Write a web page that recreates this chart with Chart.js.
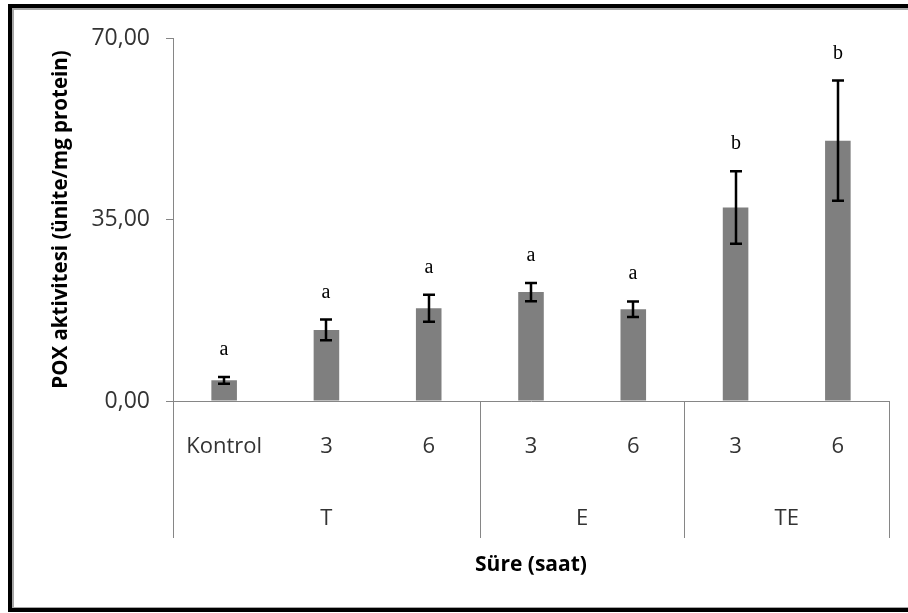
<!DOCTYPE html>
<html>
<head>
<meta charset="utf-8">
<script src="https://cdn.jsdelivr.net/npm/chart.js@4.4.1/dist/chart.umd.min.js"></script>
<style>
  html, body { margin: 0; padding: 0; background: #fff; }
  #wrap { position: relative; width: 908px; height: 613px; overflow: hidden; }
  #wrap canvas { position: absolute; left: 0; top: 0; }
  #frame {
    position: absolute; left: 8px; top: 4px; width: 920px; height: 600px;
    border: 4px solid #000; border-right: none;
    box-shadow: inset 2px 2px 0 #a6a6a6, inset 0 -1px 0 #a6a6a6;
    pointer-events: none;
  }
</style>
</head>
<body>
<div id="wrap">
  <canvas id="chart" width="908" height="613"></canvas>
  <div id="frame"></div>
</div>
<script>
// Sampling times (inner axis level) and treatment groups (outer level)
const categories = ['Kontrol', '3', '6', '3', '6', '3', '6'];
const groupLabels = ['T', 'E', 'TE'];
const groupSizes = [3, 2, 2];

// POX activity (ünite/mg protein): means, error-bar half widths, significance letters
const poxMeans = [4.0, 13.7, 17.9, 21.0, 17.7, 37.3, 50.2];
const poxErrors = [0.65, 2.0, 2.6, 1.75, 1.5, 7.0, 11.6];
const letters = ['a', 'a', 'a', 'a', 'a', 'b', 'b'];

// Value-axis ticks
const yTicks = [0, 35, 70];

const AXIS_GRAY = '#868686';
const TEXT_COLOR = '#333333';
const LABEL_FONT = '"Open Sans", "DejaVu Sans", sans-serif';

// Error bars plus the letter above each one
const errorBarPlugin = {
  id: 'errorBars',
  afterDatasetsDraw(chart) {
    const { ctx } = chart;
    const y = chart.scales.y;
    const meta = chart.getDatasetMeta(0);
    ctx.save();
    ctx.strokeStyle = '#000';
    ctx.lineWidth = 2.5;
    ctx.lineCap = 'butt';
    meta.data.forEach((bar, i) => {
      const cx = Math.round(bar.x);
      const top = y.getPixelForValue(poxMeans[i] + poxErrors[i]);
      const bot = y.getPixelForValue(poxMeans[i] - poxErrors[i]);
      ctx.beginPath();
      ctx.moveTo(cx, top); ctx.lineTo(cx, bot);
      ctx.moveTo(cx - 6, top); ctx.lineTo(cx + 6, top);
      ctx.moveTo(cx - 6, bot); ctx.lineTo(cx + 6, bot);
      ctx.stroke();

      ctx.fillStyle = '#000';
      ctx.font = '20px "Liberation Serif", "Times New Roman", serif';
      ctx.textAlign = 'center';
      ctx.textBaseline = 'alphabetic';
      ctx.fillText(letters[i], cx, top - 22);
    });
    ctx.restore();
  }
};

// Outer category level: separators and treatment group names
const groupAxisPlugin = {
  id: 'groupAxis',
  afterDraw(chart) {
    const { ctx, chartArea } = chart;
    const x = chart.scales.x;
    const lineBottom = chartArea.bottom + 137;
    const labelY = chartArea.bottom + 118;
    ctx.save();
    ctx.strokeStyle = AXIS_GRAY;
    ctx.lineWidth = 1;
    let idx = 0;
    const edges = [x.getPixelForValue(-0.5)];
    groupSizes.forEach(n => { idx += n; edges.push(x.getPixelForValue(idx - 0.5)); });
    edges.forEach(px => {
      const p = Math.round(px) + 0.5;
      ctx.beginPath();
      ctx.moveTo(p, chartArea.bottom);
      ctx.lineTo(p, lineBottom);
      ctx.stroke();
    });
    ctx.fillStyle = TEXT_COLOR;
    ctx.font = '22px ' + LABEL_FONT;
    ctx.textAlign = 'center';
    ctx.textBaseline = 'middle';
    groupLabels.forEach((g, k) => {
      ctx.fillText(g, (edges[k] + edges[k + 1]) / 2, labelY);
    });
    ctx.restore();
  }
};

new Chart(document.getElementById('chart'), {
  type: 'bar',
  data: {
    labels: categories,
    datasets: [{
      data: poxMeans,
      backgroundColor: '#7f7f7f',
      borderWidth: 0,
      barPercentage: 0.25,
      categoryPercentage: 1.0
    }]
  },
  options: {
    responsive: false,
    animation: false,
    devicePixelRatio: 1,
    layout: { padding: { top: 38, right: 19, left: 0, bottom: 0 } },
    plugins: {
      legend: { display: false },
      tooltip: { enabled: false }
    },
    scales: {
      x: {
        grid: { display: false, drawTicks: false },
        border: { display: true, color: AXIS_GRAY, width: 1 },
        ticks: {
          color: TEXT_COLOR,
          font: { family: LABEL_FONT, size: 22 },
          padding: 33,
          maxRotation: 0,
          autoSkip: false
        },
        title: {
          display: true,
          text: 'Süre (saat)',
          color: '#000',
          font: { family: LABEL_FONT, size: 21, weight: 'bold' },
          padding: { top: 0, bottom: 35 }
        },
        afterFit(scale) { scale.height = 212; }
      },
      y: {
        min: 0,
        max: 70,
        afterBuildTicks(scale) { scale.ticks = yTicks.map(v => ({ value: v })); },
        grid: {
          display: true,
          drawOnChartArea: false,
          drawTicks: true,
          tickLength: 7,
          color: AXIS_GRAY
        },
        border: { display: true, color: AXIS_GRAY, width: 1 },
        ticks: {
          color: TEXT_COLOR,
          font: { family: LABEL_FONT, size: 23 },
          padding: 16,
          callback: v => Number(v).toFixed(2).replace('.', ',')
        },
        title: {
          display: true,
          text: 'POX aktivitesi (ünite/mg protein)',
          color: '#000',
          font: { family: LABEL_FONT, size: 20.5, weight: 'bold' },
          padding: { top: 49, bottom: 0 }
        },
        afterFit(scale) { scale.width = 173; }
      }
    }
  },
  plugins: [errorBarPlugin, groupAxisPlugin]
});
</script>
</body>
</html>
